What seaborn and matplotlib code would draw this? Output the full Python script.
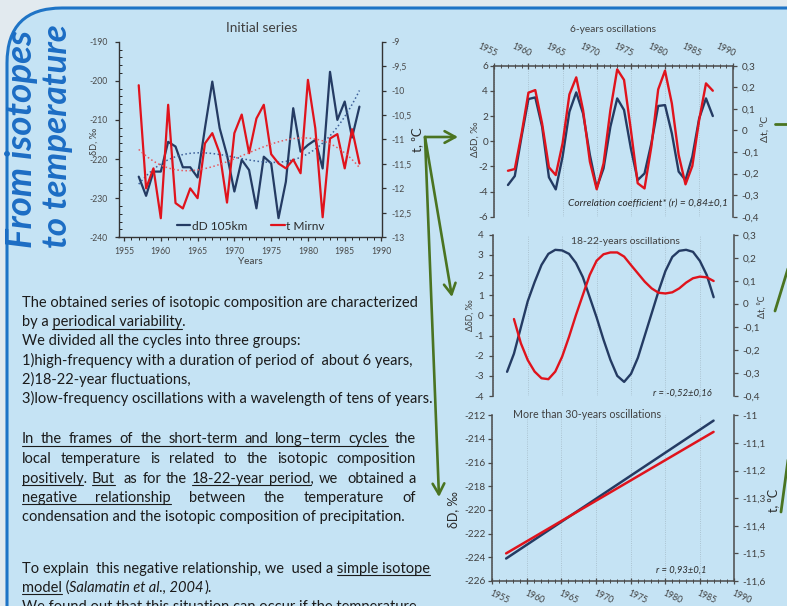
import numpy as np
import matplotlib
matplotlib.use("Agg")
import matplotlib.pyplot as plt
import seaborn as sns
from matplotlib.patches import FancyBboxPatch, FancyArrowPatch
from matplotlib.lines import Line2D
from matplotlib.transforms import IdentityTransform
from matplotlib.ticker import MultipleLocator, FuncFormatter

years = np.arange(1957, 1988)

# initial series
dd_initial = [-224.5, -229.4, -223.2, -223.2, -215.6, -216.8, -222.1, -222.1, -224.7, -212.1,
              -200.2, -212.1, -219.0, -228.3, -220.2, -222.8, -232.6, -219.4, -221.1, -235.1,
              -225.8, -207.0, -218.1, -216.4, -215.1, -222.4, -197.7, -210.0, -205.3, -214.5,
              -206.6]
t_initial = [-9.89, -12.00, -11.59, -12.61, -10.29, -12.30, -12.41, -12.00, -12.20, -11.08,
             -10.87, -11.28, -12.29, -10.87, -10.49, -11.28, -10.57, -10.29, -11.30, -11.49,
             -11.59, -11.41, -11.69, -9.78, -10.77, -12.59, -10.98, -10.89, -11.59, -10.79,
             -11.49]

# 6-years oscillations
dd_6 = [-3.48, -2.77, 0.4, 3.35, 3.48, 1.15, -2.87, -3.83, -1.23, 2.34,
        3.88, 2.2, -1.1, -3.7, -2.16, 1.15, 3.4, 2.48, -0.57, -3.09,
        -2.56, -0.17, 2.8, 2.87, 0.62, -2.42, -3.09, -1.23, 1.81, 3.4,
        2.0]
t_6 = [-0.187, -0.179, -0.014, 0.175, 0.187, 0.032, -0.171, -0.207, -0.06, 0.167,
       0.246, 0.094, -0.145, -0.273, -0.153, 0.094, 0.283, 0.234, 0.002, -0.245,
       -0.269, -0.075, 0.19, 0.277, 0.125, -0.114, -0.25, -0.165, 0.048, 0.218,
       0.184]

# 18-22-years oscillations
dd_20 = [-2.8, -1.9, -0.6, 0.7, 1.65, 2.5, 3.05, 3.25, 3.22, 3.05,
         2.6, 1.9, 0.9, -0.1, -1.2, -2.2, -3.0, -3.3, -2.9, -2.1,
         -1.0, 0.1, 1.2, 2.2, 2.9, 3.2, 3.25, 3.15, 2.7, 2.0,
         0.9]
years_t20 = np.arange(1958, 1988)
t_20 = [-0.066, -0.171, -0.244, -0.294, -0.323, -0.327, -0.294, -0.229, -0.143, -0.049,
        0.038, 0.125, 0.187, 0.215, 0.223, 0.223, 0.205, 0.168, 0.132, 0.096,
        0.067, 0.048, 0.045, 0.050, 0.067, 0.092, 0.111, 0.118, 0.115, 0.099]

# more than 30-years oscillations (linear trends)
years_lin = [1957, 1987]
dd_lin = [-224.1, -212.45]
t_lin = [-11.50, -11.06]

BLUE = "#243b63"
RED = "#e0131c"
GREEN = "#4a7421"
TXT = "#1b1b1b"
GREY = "#404040"
W, H = 787, 606

sns.set_theme(style="white")
plt.rcParams["font.family"] = ["Lato", "DejaVu Sans"]
plt.rcParams["axes.unicode_minus"] = False

fig = plt.figure(figsize=(W / 100, H / 100), dpi=100)
fig.patch.set_facecolor("#e2eaef")
renderer = fig.canvas.get_renderer()

# poster box
box = FancyBboxPatch((7, -80), 900, H - 8 + 80, boxstyle="round,pad=0,rounding_size=55",
                     facecolor="#c5e3f4", edgecolor="#1f74c6", lw=2.2,
                     transform=IdentityTransform(), zorder=-10)
fig.add_artist(box)


def ftext(x, y, s, size, **kw):
    kw.setdefault("ha", "left")
    kw.setdefault("va", "baseline")
    return fig.text(x / W, 1 - y / H, s, fontsize=size, **kw)


def fit(t, length, vertical=False):
    bb = t.get_window_extent(renderer)
    cur = bb.height if vertical else bb.width
    t.set_fontsize(t.get_fontsize() * length / cur)
    return t


def ax_px(x0, y0, x1, y1):
    a = fig.add_axes([x0 / W, 1 - y1 / H, (x1 - x0) / W, (y1 - y0) / H])
    a.set_facecolor("none")
    return a


def fline(p0, p1, **kw):
    fig.add_artist(Line2D([p0[0], p1[0]], [H - p0[1], H - p1[1]],
                          transform=IdentityTransform(), **kw))


comma = FuncFormatter(lambda v, p: f"{round(v, 3) + 0.0:g}".replace(".", ","))

# === vertical title ===
t1 = ftext(32, 248, "From isotopes", 22, rotation=90, rotation_mode="anchor",
           color="#1c6dc4", weight="bold", style="italic")
fit(t1, 218, vertical=True)
ftext(67, 248, "to temperature", t1.get_fontsize() * 0.95, rotation=90, rotation_mode="anchor",
      color="#1c6dc4", weight="bold", style="italic")

# === Initial series ===
ax1 = ax_px(118.5, 41.7, 381.5, 237.3)
ax1b = ax1.twinx()
ax1b.set_facecolor("none")
sns.lineplot(x=years, y=dd_initial, ax=ax1, color=BLUE, lw=1.6)
sns.lineplot(x=years, y=t_initial, ax=ax1b, color=RED, lw=1.6)
xs = np.linspace(years[0], years[-1], 120)
sns.lineplot(x=xs, y=np.polyval(np.polyfit(years, dd_initial, 3), xs), ax=ax1,
             color="#3c5f99", lw=1.1, ls=":")
sns.lineplot(x=xs, y=np.polyval(np.polyfit(years, t_initial, 3), xs), ax=ax1b,
             color="#e8585e", lw=1.1, ls=":")
ax1.set_xlim(1954.25, 1990)
ax1.set_ylim(-240, -190)
ax1b.set_ylim(-13, -9)
ax1.xaxis.set_major_locator(MultipleLocator(5))
ax1.xaxis.set_minor_locator(MultipleLocator(1))
ax1.yaxis.set_major_locator(MultipleLocator(10))
ax1.yaxis.set_minor_locator(MultipleLocator(2))
ax1b.yaxis.set_major_locator(MultipleLocator(0.5))
ax1b.yaxis.set_major_formatter(comma)
for a in (ax1, ax1b):
    a.set_xlabel("")
    a.set_ylabel("")
    for s in a.spines.values():
        s.set_color("#333333")
        s.set_linewidth(1.0)
    a.spines["top"].set_visible(False)
ax1.spines["right"].set_visible(False)
ax1b.spines["left"].set_visible(False)
ax1b.spines["bottom"].set_visible(False)
ax1.tick_params(which="major", direction="out", length=3, width=0.9, color="#333333",
                labelsize=6.2, labelcolor="#4a4a4a", pad=2, left=True, bottom=True)
ax1.tick_params(axis="y", which="minor", direction="in", length=2, width=0.7, left=True)
ax1.tick_params(axis="x", which="minor", direction="out", length=2.5, width=0.7, bottom=True)
ax1.tick_params(axis="x", pad=4)
ax1.tick_params(axis="y", pad=5)
ax1b.tick_params(which="major", direction="out", length=3, width=0.9, color="#333333",
                 labelsize=6.2, labelcolor="#4a4a4a", pad=4, right=True)
leg = ax1b.legend(handles=[Line2D([], [], color=BLUE, lw=1.6), Line2D([], [], color=RED, lw=1.6)],
                  labels=["dD 105km", "t Mirnv"], loc="center", ncol=2, frameon=False,
                  bbox_to_anchor=(251 / W, 1 - 226 / H), bbox_transform=fig.transFigure,
                  fontsize=8.6, handlelength=1.1, handletextpad=0.15, columnspacing=2.0,
                  borderpad=0)
for tx in leg.get_texts():
    tx.set_color("#2b2b2b")
fit(ftext(262, 28, "Initial series", 8, ha="center", va="center", color=GREY), 72)
ftext(250, 262, "Years", 7.2, ha="center", va="center", color=GREY)
ftext(94, 141, "δD, ‰", 6.6, ha="center", va="center", rotation=90, color=GREY)
ftext(417, 140, "t, ⁰C", 9.5, ha="center", va="center", rotation=90, color="#2b2b2b")


def panel(box_px, ylim_l, ylim_r, step_l, step_r):
    a = ax_px(*box_px)
    b = a.twinx()
    b.set_facecolor("none")
    a.set_xlim(1955, 1990)
    a.set_ylim(*ylim_l)
    b.set_ylim(*ylim_r)
    a.xaxis.set_major_locator(MultipleLocator(5))
    a.xaxis.set_minor_locator(MultipleLocator(1))
    a.yaxis.set_major_locator(MultipleLocator(step_l))
    b.yaxis.set_major_locator(MultipleLocator(step_r))
    a.yaxis.set_major_formatter(comma)
    b.yaxis.set_major_formatter(comma)
    a.grid(True, axis="x", which="major", color="#a3b9c6", lw=0.6, ls=":")
    for c in (a, b):
        c.set_xlabel("")
        c.set_ylabel("")
        for s in c.spines.values():
            s.set_visible(False)
            s.set_color("#4a4a4a")
            s.set_linewidth(1.1)
    a.spines["left"].set_visible(True)
    b.spines["right"].set_visible(True)
    a.tick_params(axis="y", which="major", direction="out", length=3, width=0.9,
                  color="#4a4a4a", labelsize=7.2, labelcolor=GREY, pad=1.5, left=True)
    b.tick_params(axis="y", which="major", direction="out", length=3, width=0.9,
                  color="#4a4a4a", labelsize=7.2, labelcolor=GREY, pad=3, right=True)
    a.tick_params(axis="x", which="both", bottom=False, top=False,
                  labelbottom=False, labeltop=False)
    return a, b


# === 6-years oscillations ===
a2, b2 = panel((494.3, 65.7, 733.3, 216.7), (-6, 6), (-0.4, 0.3), 2, 0.1)
sns.lineplot(x=years, y=dd_6, ax=a2, color=BLUE, lw=1.7)
sns.lineplot(x=years, y=t_6, ax=b2, color=RED, lw=1.7)
a2.spines["top"].set_visible(True)
a2.tick_params(axis="x", which="major", top=True, labeltop=True, direction="inout", length=5,
               width=0.9, color="#4a4a4a", labelsize=6.2, labelcolor=GREY, pad=3)
a2.tick_params(axis="x", which="minor", top=True, direction="inout", length=3.5, width=0.7,
               color="#4a4a4a")
for lab in a2.xaxis.get_majorticklabels():
    lab.set_rotation(-25)
    lab.set_rotation_mode("anchor")
    lab.set_ha("right")
    lab.set_va("bottom")
for c in (a2, b2):
    c.set_xlabel("")
    c.set_ylabel("")
fit(ftext(613, 30, "6-years oscillations", 8, ha="center", va="center", color=GREY), 87)
fit(ftext(728, 203, "Correlation coefficient* (r) = 0,84±0,1", 7, ha="right", va="center",
          color="#2b2b2b", style="italic"), 159)
ftext(475, 139, "ΔδD, ‰", 7, ha="center", va="center", rotation=90, color=GREY)
ftext(765, 129, "Δt, ⁰C", 7.5, ha="center", va="center", rotation=90, color=GREY)

# === 18-22-years oscillations ===
a3, b3 = panel((493.3, 234.7, 734.3, 396), (-4, 4), (-0.4, 0.3), 1, 0.1)
sns.lineplot(x=years, y=dd_20, ax=a3, color=BLUE, lw=1.7)
sns.lineplot(x=years_t20, y=t_20, ax=b3, color=RED, lw=1.7)
for c in (a3, b3):
    c.set_xlabel("")
    c.set_ylabel("")
a3.tick_params(axis="y", pad=4)
fit(ftext(625, 241, "18-22-years oscillations", 8, ha="center", va="center", color=GREY), 110)
fit(ftext(712, 393, "r = -0,52±0,16", 7, ha="right", va="center", color="#2b2b2b",
          style="italic"), 58)
ftext(470, 315, "ΔδD, ‰", 6.3, ha="center", va="center", rotation=90, color=GREY)
ftext(762, 307, "Δt, ⁰C", 6.5, ha="center", va="center", rotation=90, color=GREY)

# === More than 30-years oscillations ===
a4, b4 = panel((492.3, 415.3, 734.3, 581), (-226, -212), (-11.6, -11), 2, 0.1)
sns.lineplot(x=years_lin, y=dd_lin, ax=a4, color=BLUE, lw=1.8)
sns.lineplot(x=years_lin, y=t_lin, ax=b4, color=RED, lw=1.8)
a4.spines["bottom"].set_visible(True)
a4.tick_params(axis="x", which="major", bottom=True, labelbottom=True, direction="inout",
               length=5, width=0.9, color="#4a4a4a", labelsize=6.2, labelcolor=GREY, pad=3)
a4.tick_params(axis="x", which="minor", bottom=True, direction="inout", length=3.5, width=0.7,
               color="#4a4a4a")
for lab in a4.xaxis.get_majorticklabels():
    lab.set_rotation(-25)
    lab.set_rotation_mode("anchor")
    lab.set_ha("left")
    lab.set_va("top")
for c in (a4, b4):
    c.set_xlabel("")
    c.set_ylabel("")
a4.tick_params(axis="y", pad=2)
fit(ftext(513, 415, "More than 30-years oscillations", 8, ha="left", va="center", color=GREY), 149)
fit(ftext(707, 570, "r = 0,93±0,1", 7, ha="right", va="center", color="#2b2b2b",
          style="italic"), 50)
ftext(453, 510, "δD, ‰", 9, ha="center", va="center", rotation=90, color="#2b2b2b")
ftext(773, 500, "t, ⁰C", 9, ha="center", va="center", rotation=90, color="#2b2b2b")

# === green arrows ===
arrow_kw = dict(arrowstyle="->,head_length=0.55,head_width=0.3", mutation_scale=14,
                color=GREEN, lw=1.9, shrinkA=0, shrinkB=0, transform=IdentityTransform())
for end in [(458, 137), (452, 297), (439, 497)]:
    fig.add_artist(FancyArrowPatch((425, H - 137), (end[0], H - end[1]), **arrow_kw))
for p0, p1 in [((775, 124), (790, 124)), ((790, 262), (775, 311)), ((790, 445), (781, 512))]:
    fline(p0, p1, color=GREEN, lw=2.0)

# === body text ===
TX0 = 21.7
probe = ftext(0, 0, "The obtained series of isotopic composition are characterized", 10)
fit(probe, 396)
FS = probe.get_fontsize()
probe.remove()


def tw(s, italic=False):
    if not s:
        return 0.0
    t = ftext(0, 0, s, FS, style="italic" if italic else "normal")
    w = t.get_window_extent(renderer).width
    t.remove()
    return w


SPACE = tw("a a") - tw("aa")


def underline(x0, x1, y):
    fline((x0, y + 2.6), (x1, y + 2.6), color=TXT, lw=0.8)


def spans(s):
    # strip "_" markers, return clean text and underlined (start, end) index pairs
    clean, out, start = "", [], None
    for ch in s:
        if ch == "_":
            if start is None:
                start = len(clean)
            else:
                out.append((start, len(clean)))
                start = None
        else:
            clean += ch
    return clean, out


def draw_plain(s, y, x0=TX0):
    clean, us = spans(s)
    ftext(x0, y, clean, FS, color=TXT)
    for i, j in us:
        end = x0 + tw(clean[:j])
        underline(end - tw(clean[i:j]), end, y)


def draw_justified(s, y, right):
    clean, us = spans(s)
    words, k = [], 0
    for part in clean.split(" "):
        if part:
            words.append((part, k))
        k += len(part) + 1
    widths = [tw(w) for w, _ in words]
    nsp = sum(words[n + 1][1] - (words[n][1] + len(words[n][0])) for n in range(len(words) - 1))
    sp = (right - TX0 - sum(widths)) / nsp
    pos, x = {}, TX0
    for n, (w, k0) in enumerate(words):
        ftext(x, y, w, FS, color=TXT)
        pos[n] = x
        if n < len(words) - 1:
            x += widths[n] + (words[n + 1][1] - (k0 + len(w))) * sp
    for i, j in us:
        segs = [n for n, (w, k0) in enumerate(words) if k0 < j and k0 + len(w) > i]
        n0, n1 = segs[0], segs[-1]
        w0, k0 = words[n0]
        w1, k1 = words[n1]
        a0, b0 = max(i - k0, 0), min(j - k0, len(w0))
        x_start = pos[n0] + tw(w0[:b0]) - tw(w0[a0:b0])
        x_end = pos[n1] + tw(w1[:min(j - k1, len(w1))])
        underline(x_start, x_end, y)


for s, y in [
    ("The obtained series of isotopic composition are characterized", 306.7),
    ("by a _periodical variability_.", 326.0),
    ("We divided all the cycles into three groups:", 345.3),
    ("1)high-frequency with a duration of period of  about 6 years,", 364.6),
    ("2)18-22-year fluctuations,", 383.9),
    ("3)low-frequency oscillations with a wavelength of tens of years.", 403.2),
    ("condensation and the isotopic composition of precipitation.", 520.7),
    ("To explain  this negative relationship, we  used a _simple isotope_", 572.7),
    ("We found out that this situation can occur if the temperature", 610.5),
]:
    draw_plain(s, y)

for s, y in [
    ("_In the frames of the short-term and long–term cycles_ the", 443.3),
    ("local temperature is related to the isotopic composition", 463.3),
    ("_positively_. _But_  as for the _18-22-year period_, we  obtained a", 482.7),
    ("_negative relationship_ between the temperature of", 501.7),
]:
    draw_justified(s, y, 416)

# line with the italic reference
x = TX0
for txt, it, ul in [("model (", False, "model"), ("Salamatin et al., 2004", True, None),
                    (").", False, None)]:
    ftext(x, 591.7, txt, FS, color=TXT, style="italic" if it else "normal")
    if ul:
        underline(x, x + tw(ul), 591.7)
    x += tw(txt, it) + (SPACE * 0.35 if it else 0)
    if txt.endswith(" "):
        x += SPACE

fig.savefig("out.png", dpi=100, facecolor=fig.get_facecolor())
